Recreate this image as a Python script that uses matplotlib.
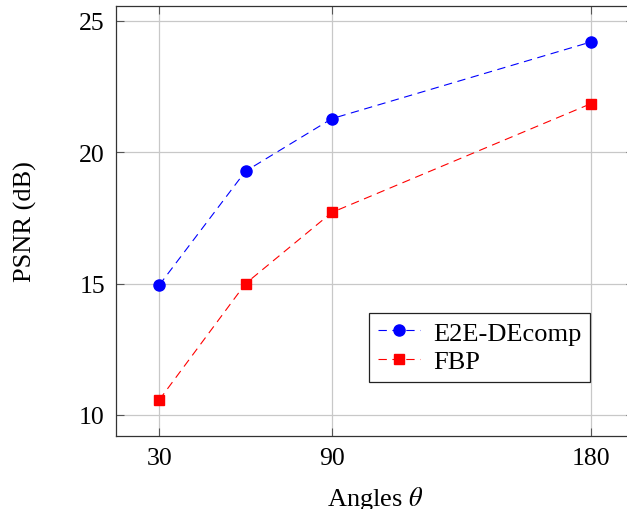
import matplotlib
matplotlib.use("Agg")
import matplotlib.pyplot as plt

# data
angles = [30, 60, 90, 180]
psnr_e2e = [14.94, 19.28, 21.28, 24.2]
psnr_fbp = [10.57, 15.0, 17.71, 21.85]
x_ticks = [30, 90, 180]
y_ticks = [10, 15, 20, 25]

plt.rcParams["font.family"] = ["Liberation Serif", "DejaVu Serif"]
plt.rcParams["mathtext.fontset"] = "stix"
plt.rcParams["lines.scale_dashes"] = False

fig = plt.figure(figsize=(6.27, 5.10), dpi=100)
ax = fig.add_axes([116 / 627, 1 - 437 / 510, 518 / 627, 430 / 510])

ax.plot(angles, psnr_e2e, color="#0000ff", linestyle="--", dashes=(6, 4),
        linewidth=0.8, marker="o", markersize=8, label="E2E-DEcomp")
ax.plot(angles, psnr_fbp, color="#ff0000", linestyle="--", dashes=(6, 4),
        linewidth=0.8, marker="s", markersize=7.5, label="FBP")

ax.set_xlim(15, 195)
ax.set_ylim(9.2, 25.57)
ax.set_xticks(x_ticks)
ax.set_yticks(y_ticks)
ax.tick_params(direction="in", length=6, width=0.8, color="#555555",
               top=True, right=True, labelsize=18.5, pad=8)
ax.grid(True, color="#c8c8c8", linewidth=0.9)
ax.set_axisbelow(True)
for s in ax.spines.values():
    s.set_linewidth(0.9)
    s.set_color("#333333")

ax.set_xlabel(r"Angles $\theta$", fontsize=19, labelpad=11)
ax.set_ylabel("PSNR (dB)", fontsize=19, labelpad=30)

leg = ax.legend(loc="lower right", bbox_to_anchor=(0.915, 0.126),
                borderaxespad=0, fontsize=19, fancybox=False, framealpha=1,
                edgecolor="#222222", handlelength=1.6, handletextpad=0.5,
                borderpad=0.32, labelspacing=0.2)
leg.get_frame().set_linewidth(0.9)

fig.savefig("out.png", dpi=100)
